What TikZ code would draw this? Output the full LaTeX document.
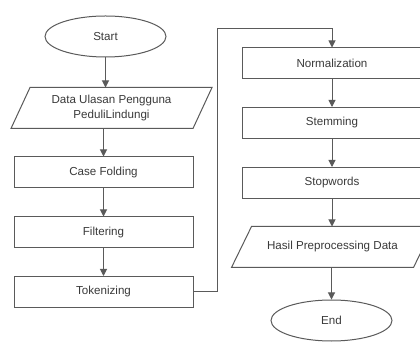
\documentclass[tikz,border=0pt]{standalone}
\usepackage{fontspec}
\setmainfont{Liberation Sans}
\usetikzlibrary{shapes.geometric,arrows.meta}
\definecolor{txt}{HTML}{3A3A3A}
\definecolor{ln}{HTML}{5A5A5A}
\tikzset{
  base/.style={draw=ln, line width=1pt, text=txt, font=\fontsize{11.6}{14.5}\selectfont, align=center, inner sep=0pt},
  term/.style={base, ellipse, minimum width=121pt, minimum height=41pt},
  proc/.style={base, rectangle, minimum width=179pt, minimum height=31pt},
  procr/.style={base, rectangle, minimum width=180pt, minimum height=31pt},
  iobox/.style={base, draw=none, rectangle, minimum width=181pt, minimum height=40pt},
  flow/.style={draw=ln, line width=1pt, -{Triangle[length=7pt,width=7pt]}},
}
\begin{document}
\begin{tikzpicture}[x=1pt,y=-1pt]
\useasboundingbox[fill=white] (0,0) rectangle (420,344);
% left column
\node[term] (start) at (105.5,36.5) {Start};
\node[iobox] (data) at (111.5,108) {Data Ulasan Pengguna\\PeduliLindungi};
\draw[draw=ln, line width=1pt] ([xshift=9.5pt]data.north west) -- ([xshift=9.5pt]data.north east) -- ([xshift=-9.5pt]data.south east) -- ([xshift=-9.5pt]data.south west) -- cycle;
\node[proc] (case) at (103.5,172.5) {Case Folding};
\node[proc] (filt) at (103.5,232.5) {Filtering};
\node[proc] (tok) at (103.5,292) {Tokenizing};
% right column
\node[procr] (norm) at (332,63.5) {Normalization};
\node[procr] (stem) at (332,123) {Stemming};
\node[procr] (stop) at (332,183) {Stopwords};
\node[iobox] (hasil) at (332.5,247) {Hasil Preprocessing Data};
\draw[draw=ln, line width=1pt] ([xshift=10pt]hasil.north west) -- ([xshift=10pt]hasil.north east) -- ([xshift=-10pt]hasil.south east) -- ([xshift=-10pt]hasil.south west) -- cycle;
\node[term] (end) at (331.5,320.5) {End};
% connectors
\draw[flow] (start.south) -- (start.south |- data.north);
\draw[flow] (data.south -| case.north) -- (case.north);
\draw[flow] (case) -- (filt);
\draw[flow] (filt) -- (tok);
\coordinate (bend) at (217,29);
\draw[flow] (tok.east) -| (bend) -| (norm.north);
\draw[flow] (norm) -- (stem);
\draw[flow] (stem) -- (stop);
\draw[flow] (stop.south) -- (stop.south |- hasil.north);
\draw[flow] (hasil.south -| end.north) -- (end.north);
\end{tikzpicture}
\end{document}
